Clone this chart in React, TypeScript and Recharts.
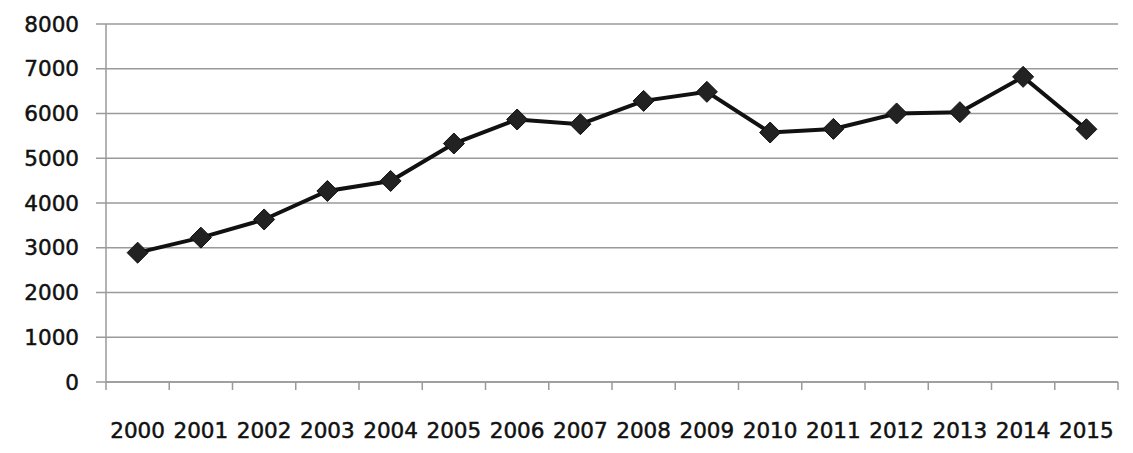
import React from "react";
import { LineChart, Line, XAxis, YAxis, CartesianGrid } from "recharts";

const years = ["2000","2001","2002","2003","2004","2005","2006","2007","2008","2009","2010","2011","2012","2013","2014","2015"];
const values = [2890,3226,3632,4268,4492,5329,5866,5761,6282,6484,5575,5656,6001,6030,6819,5648];
const yTicks = [0,1000,2000,3000,4000,5000,6000,7000,8000];

const data = years.map((y, i) => ({ year: y, value: values[i] }));

const W = 1133;
const H = 453;
const M = { top: 24, right: 15, bottom: 0, left: 0 };
const Y_AXIS_W = 106;
const X_AXIS_H = 71;
const HALF_BAND = (W - M.right - Y_AXIS_W) / years.length / 2;
const FONT = "'DejaVu Sans', sans-serif";
const GRID = "#9a9a9a";

const XTick = (props: any) => {
  const { x, y, payload, index } = props;
  const last = index === years.length - 1;
  return (
    <g>
      <line x1={x - HALF_BAND} x2={x - HALF_BAND} y1={y} y2={y + 8} stroke={GRID} strokeWidth={1.5} />
      {last && <line x1={x + HALF_BAND} x2={x + HALF_BAND} y1={y} y2={y + 8} stroke={GRID} strokeWidth={1.5} />}
      <text x={x} y={y + 56} textAnchor="middle" fontFamily={FONT} fontSize={21.5} fill="#111" stroke="#111" strokeWidth={0.5}>
        {payload.value}
      </text>
    </g>
  );
};

const Diamond = (props: any) => {
  const { cx, cy } = props;
  if (cx == null || cy == null) return null;
  const r = 10.5;
  return (
    <path
      d={`M${cx},${cy - r} L${cx + r},${cy} L${cx},${cy + r} L${cx - r},${cy} Z`}
      fill="#222"
      stroke="#111"
      strokeWidth={1}
    />
  );
};

export default function App() {
  return (
    <div style={{ position: "absolute", left: 0, top: 0, width: W, height: H, background: "#fff" }}>
      <LineChart width={W} height={H} data={data} margin={M}>
        <CartesianGrid horizontal={true} vertical={false} stroke={GRID} strokeWidth={1.5} />
        <XAxis
          dataKey="year"
          height={X_AXIS_H}
          tickSize={0}
          tickMargin={0}
          padding={{ left: HALF_BAND, right: HALF_BAND }}
          axisLine={{ stroke: GRID, strokeWidth: 1.5 }}
          tickLine={false}
          tick={<XTick />}
          interval={0}
        />
        <YAxis
          width={Y_AXIS_W}
          domain={[0, 8000]}
          ticks={yTicks}
          tickSize={10}
          tickMargin={17}
          axisLine={{ stroke: GRID, strokeWidth: 1.5 }}
          tickLine={{ stroke: GRID, strokeWidth: 1.5 }}
          tick={{ fontFamily: FONT, fontSize: 21.5, fill: "#111", stroke: "#111", strokeWidth: 0.5 }}
          interval={0}
        />
        <Line
          type="linear"
          dataKey="value"
          stroke="#111"
          strokeWidth={4}
          dot={<Diamond />}
          activeDot={false}
          isAnimationActive={false}
        />
      </LineChart>
    </div>
  );
}
